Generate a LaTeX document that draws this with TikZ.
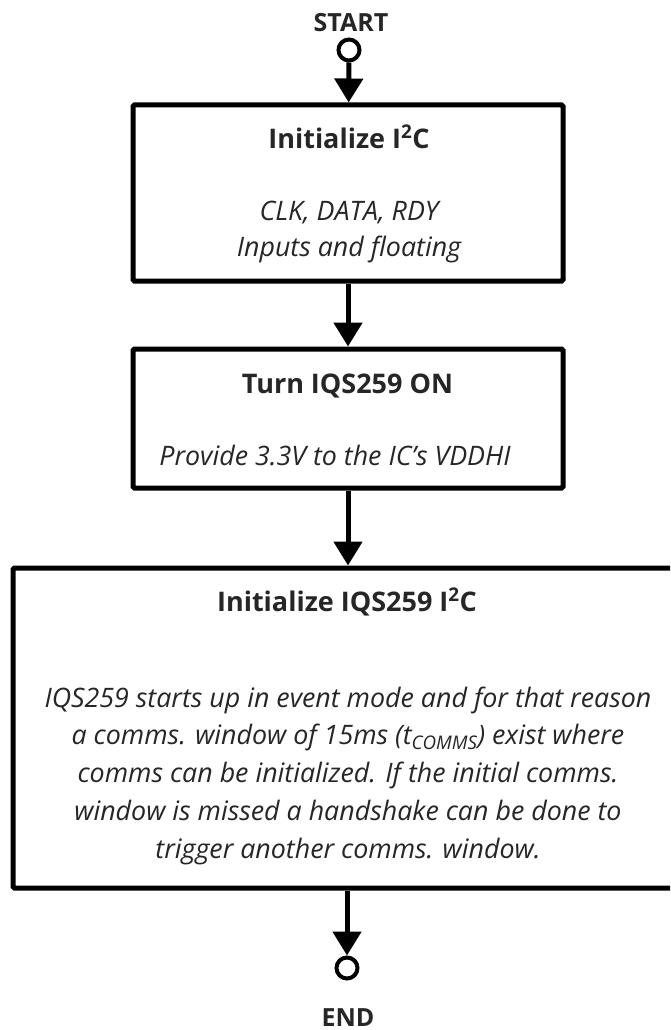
\documentclass[tikz,border=0pt]{standalone}
\usepackage{fontspec}
\setmainfont{Open Sans}
\usetikzlibrary{arrows.meta}
\definecolor{txt}{RGB}{38,38,38}
\begin{document}
\begin{tikzpicture}[x=1pt,y=-1pt,
  box/.style={draw=black, line width=5pt, rounded corners=1.5pt, inner sep=0pt, fill=white},
  flow/.style={line width=5pt, -{Triangle[width=28pt,length=24pt]}},
  term/.style={circle, draw=black, line width=4pt, minimum size=21pt, inner sep=0pt},
  title/.style={font=\fontsize{27}{32}\selectfont\bfseries, text=txt, anchor=base, inner sep=0pt},
  body/.style={font=\fontsize{26.8}{36}\selectfont\itshape, text=txt, anchor=base, align=center, inner sep=0pt},
  bodyb/.style={font=\fontsize{26.8}{37.75}\selectfont\itshape, text=txt, anchor=base, align=center, inner sep=0pt},
  lbl/.style={font=\fontsize{25}{30}\selectfont\bfseries, text=txt, anchor=base, inner sep=0pt}]
\clip (0,0) rectangle (670,1030);
\fill[white] (0,0) rectangle (670,1030);

\node[lbl] (startlbl) at (351,32) {START};
\node[term] (start) at (349,50) {};

\node[box, minimum width=430pt, minimum height=176pt] (b1) at (348,193) {};
\node[title] (t1) at (349,148) {Initialize I\textsuperscript{2}C};
\node[body] (d1) at (349,256) {CLK, DATA, RDY\\Inputs and floating};

\node[box, minimum width=430pt, minimum height=139pt] (b2) at (348,418.5) {};
\node[title] (t2) at (347.5,393) {Turn IQS259 ON};
\node[body] (d2) at (335,465) {Provide 3.3V to the IC’s VDDHI};

\node[box, minimum width=670pt, minimum height=320pt] (b3) at (348,728) {};
\node[title] (t3) at (347,611) {Initialize IQS259 I\textsuperscript{2}C};
\node[bodyb] (d3) at (348,858) {IQS259 starts up in event mode and for that reason\\
a comms. window of 15ms (t\textsubscript{COMMS}) exist where\\
comms can be initialized. If the initial comms.\\
window is missed a handshake can be done to\\
trigger another comms. window.};

\node[term] (end) at (347,968) {};
\node[lbl] (endlbl) at (348,1026) {END};

\draw[flow] (start) -- (b1);
\draw[flow] (b1) -- (b2);
\draw[flow] (b2) -- (b3);
\draw[flow] (b3.south -| end) -- (end);
\end{tikzpicture}
\end{document}
